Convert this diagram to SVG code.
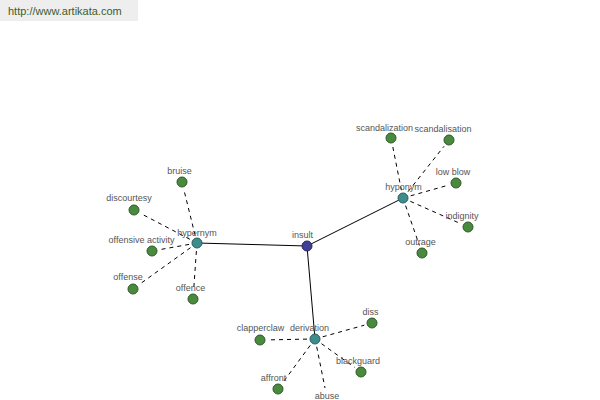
<svg xmlns="http://www.w3.org/2000/svg" width="600" height="400" viewBox="0 0 600 400">
<style>
.lbl{font-family:"Liberation Sans",Arial,sans-serif;font-size:9px;fill:#555;text-anchor:middle}
.leaf{fill:#4a8a3e;stroke:#2d5a26;stroke-width:1}
.hub{fill:#3e8c8c;stroke:#2a5e5e;stroke-width:1}
.root{fill:#3f3f96;stroke:#26265e;stroke-width:1}
.solid{stroke:#000;stroke-width:1;fill:none}
.dash{stroke:#000;stroke-width:1;stroke-dasharray:4,4;fill:none}
</style>
<rect x="0" y="0" width="600" height="400" fill="#fff"/>
<g id="header">
<rect x="0" y="0" width="138" height="21" fill="#eeeeee"/>
<text x="8" y="15" style="font-family:'Liberation Sans',Arial,sans-serif;font-size:11px;fill:#3d5c2e">http://www.artikata.com</text>
</g>
<g id="connectors">
<line class="solid" x1="307" y1="246" x2="197" y2="243"/>
<line class="solid" x1="307" y1="246" x2="403" y2="198"/>
<line class="solid" x1="307" y1="246" x2="315" y2="339"/>
<line class="dash" x1="195.1" y1="235.2" x2="183.9" y2="189.8"/>
<line class="dash" x1="189.9" y1="239.3" x2="141.1" y2="213.7"/>
<line class="dash" x1="189.1" y1="244.4" x2="159.9" y2="249.6"/>
<line class="dash" x1="190.5" y1="247.7" x2="139.5" y2="284.3"/>
<line class="dash" x1="196.4" y1="251" x2="193.6" y2="291"/>
<line class="dash" x1="401.4" y1="190.2" x2="392.6" y2="145.8"/>
<line class="dash" x1="408" y1="191.7" x2="444" y2="146.3"/>
<line class="dash" x1="410.7" y1="195.8" x2="448.3" y2="185.2"/>
<line class="dash" x1="410.3" y1="201.3" x2="460.7" y2="223.7"/>
<line class="dash" x1="405.6" y1="205.6" x2="419.4" y2="245.4"/>
<line class="dash" x1="307" y1="339.1" x2="268" y2="339.9"/>
<line class="dash" x1="322.7" y1="336.8" x2="364.3" y2="325.2"/>
<line class="dash" x1="321.5" y1="343.7" x2="354.5" y2="367.3"/>
<line class="dash" x1="310.2" y1="345.4" x2="282.8" y2="382.6"/>
<line class="dash" x1="316.7" y1="346.8" x2="325" y2="388"/>
</g>
<g id="insult"><circle class="root" cx="307" cy="246" r="5"/><text class="lbl" x="302.5" y="238">insult</text></g>
<g id="hypernym"><circle class="hub" cx="197" cy="243" r="5"/><text class="lbl" x="197" y="236">hypernym</text></g>
<g id="hyponym"><circle class="hub" cx="403" cy="198" r="5"/><text class="lbl" x="403.5" y="190">hyponym</text></g>
<g id="derivation"><circle class="hub" cx="315" cy="339" r="5"/><text class="lbl" x="309.5" y="331">derivation</text></g>
<g id="bruise"><circle class="leaf" cx="182" cy="182" r="5"/><text class="lbl" x="179.5" y="174">bruise</text></g>
<g id="discourtesy"><circle class="leaf" cx="134" cy="210" r="5"/><text class="lbl" x="129" y="201">discourtesy</text></g>
<g id="offensive-activity"><circle class="leaf" cx="152" cy="251" r="5"/><text class="lbl" x="141.5" y="243">offensive activity</text></g>
<g id="offense"><circle class="leaf" cx="133" cy="289" r="5"/><text class="lbl" x="128" y="280">offense</text></g>
<g id="offence"><circle class="leaf" cx="193" cy="299" r="5"/><text class="lbl" x="190.5" y="291">offence</text></g>
<g id="scandalization"><circle class="leaf" cx="391" cy="138" r="5"/><text class="lbl" x="384.5" y="131">scandalization</text></g>
<g id="scandalisation"><circle class="leaf" cx="449" cy="140" r="5"/><text class="lbl" x="443" y="132">scandalisation</text></g>
<g id="low-blow"><circle class="leaf" cx="456" cy="183" r="5"/><text class="lbl" x="453" y="175">low blow</text></g>
<g id="indignity"><circle class="leaf" cx="468" cy="227" r="5"/><text class="lbl" x="462" y="219">indignity</text></g>
<g id="outrage"><circle class="leaf" cx="422" cy="253" r="5"/><text class="lbl" x="420.5" y="245">outrage</text></g>
<g id="clapperclaw"><circle class="leaf" cx="260" cy="340" r="5"/><text class="lbl" x="260.5" y="331">clapperclaw</text></g>
<g id="diss"><circle class="leaf" cx="372" cy="323" r="5"/><text class="lbl" x="370.5" y="315">diss</text></g>
<g id="blackguard"><circle class="leaf" cx="361" cy="372" r="5"/><text class="lbl" x="358" y="364">blackguard</text></g>
<g id="affront"><circle class="leaf" cx="278" cy="389" r="5"/><text class="lbl" x="273.5" y="381">affront</text></g>
<g id="abuse"><circle class="leaf" cx="330" cy="410" r="5"/><text class="lbl" x="327" y="399">abuse</text></g>
</svg>
